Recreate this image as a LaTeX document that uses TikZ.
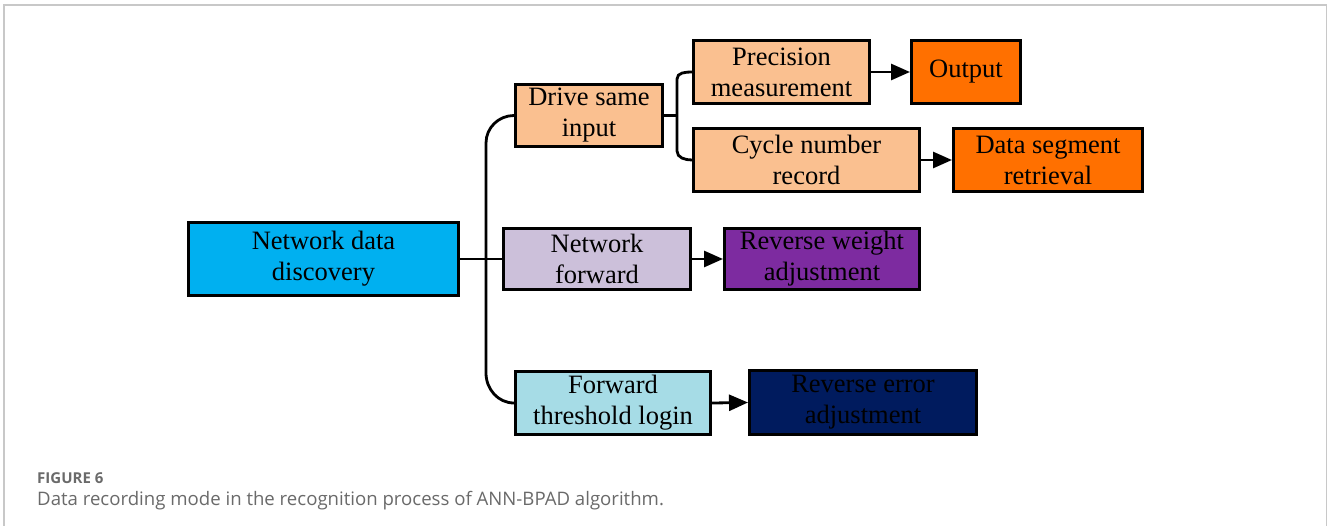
\documentclass[tikz,border=0pt]{standalone}
\usepackage{fontspec}
\setmainfont{Liberation Serif}
\newfontfamily\capfont{Open Sans}
\usetikzlibrary{arrows.meta}

\definecolor{cyanbox}{HTML}{00B0F0}
\definecolor{peach}{HTML}{FAC090}
\definecolor{deeporange}{HTML}{FF7000}
\definecolor{lilac}{HTML}{CCC0DA}
\definecolor{violet}{HTML}{7D2BA0}
\definecolor{paleblue}{HTML}{A6DCE6}
\definecolor{navy}{HTML}{001B5E}
\definecolor{framegray}{HTML}{C8C8C8}
\definecolor{capgray}{HTML}{6A6A6A}

\tikzset{
  box/.style={draw=black, line width=3pt, rectangle, align=center,
    inner sep=0pt, font=\fontsize{26.5}{31}\selectfont},
  link/.style={draw=black, line width=2.8pt},
  flow/.style={link, -{Triangle[length=19pt,width=16pt]}},
}

\begin{document}
\begin{tikzpicture}[x=1pt, y=-1pt]
  \useasboundingbox (0,0) rectangle (1328,526);
  \fill[white] (0,0) rectangle (1328,526);

  % page frame
  \draw[framegray, line width=1.5pt] (4,526) -- (4,5) -- (1326.5,5) -- (1326.5,526);

  % boxes
  \node[box, fill=cyanbox, minimum width=270, minimum height=73] (nd) at (323.5,259) {Network data\\discovery};
  \node[box, fill=peach, minimum width=147, minimum height=62] (dsi) at (589,115.5) {Drive same\\input};
  \node[box, fill=peach, minimum width=176, minimum height=63] (pm) at (781.5,72) {Precision\\measurement};
  \node[box, fill=deeporange, minimum width=109, minimum height=63] (out) at (966,72) {Output};
  \node[box, fill=peach, minimum width=226, minimum height=63] (cnr) at (806.5,160) {Cycle number\\record};
  \node[box, fill=deeporange, minimum width=189, minimum height=63] (dsr) at (1048,160) {Data segment\\retrieval};
  \node[box, fill=lilac, minimum width=187, minimum height=61] (nf) at (597,259) {Network\\forward};
  \node[box, fill=violet, minimum width=195, minimum height=61] (rwa) at (822,259) {Reverse weight\\adjustment};
  \node[box, fill=paleblue, minimum width=195, minimum height=63] (ftl) at (613,403) {Forward\\threshold login};
  \node[box, fill=navy, minimum width=227, minimum height=64] (rea) at (863,402.5) {Reverse error\\adjustment};

  % junction points of the branching lines
  \coordinate (jtop) at (486,143);
  \coordinate (jbot) at (486,373);
  \coordinate (jb) at (677,115.5);
  \coordinate (jbtop) at (677,79);
  \coordinate (jbbot) at (677,151);

  % main branching
  \draw[link] (nd.east) -- (nf.west);
  \draw[link, line cap=round] (dsi.west) to[out=180, in=90] (jtop) -- (jbot) to[out=-90, in=180] (ftl.west);

  % second branching
  \draw[link] (dsi.east) -- (jb);
  \draw[link, line cap=round] (pm.west) to[out=180, in=90] (jbtop) -- (jbbot) to[out=-90, in=180] (cnr.west);

  % arrows
  \draw[flow] (pm.east) -- (out.west);
  \draw[flow] (cnr.east) -- (dsr.west);
  \draw[flow] (nf.east) -- (rwa.west);
  \draw[flow] (ftl.east) -- (rea.west);

  % caption
  \node[anchor=base west, inner sep=0pt, text=capgray, font=\capfont\fontsize{15}{17}\selectfont\bfseries] (fig) at (37,483) {FIGURE 6};
  \node[anchor=base west, inner sep=0pt, text=capgray, font=\capfont\fontsize{18.6}{22}\selectfont] (cap) at (37,505) {Data recording mode in the recognition process of ANN-BPAD algorithm.};
\end{tikzpicture}
\end{document}
